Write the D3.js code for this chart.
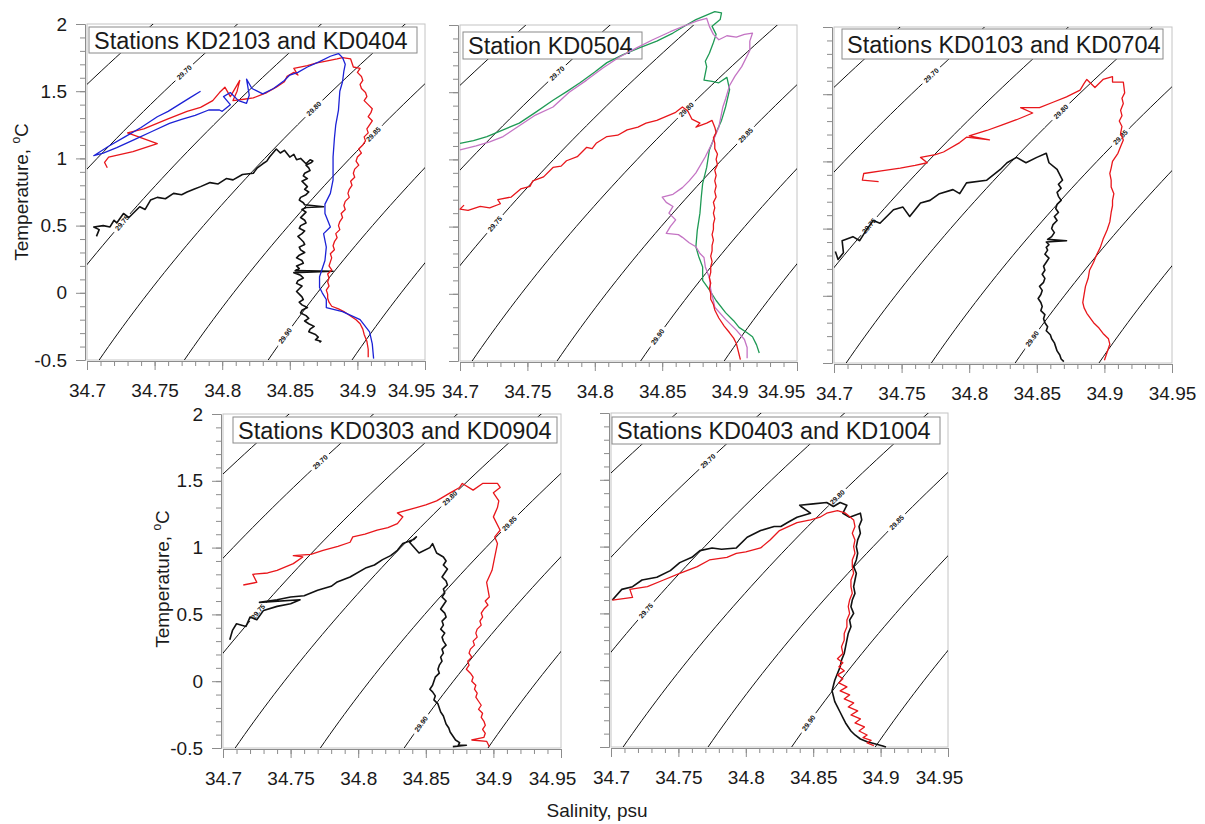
<!DOCTYPE html>
<html>
<head>
<meta charset="utf-8">
<script src="https://cdn.jsdelivr.net/npm/d3@7"></script>
<style>
  body { margin: 0; background: #fff; }
  text { font-family: "Liberation Sans", Arial, sans-serif; }
</style>
</head>
<body>
<svg id="chart" width="1205" height="824"></svg>
<script>
// ---------- isopycnal grid (sigma levels and their salinity at T = -0.5 °C) ----------
const sigmaLevels   = [29.65, 29.70, 29.75, 29.80, 29.85, 29.90, 29.95];
const sigmaBaseSal  = [34.5225, 34.585, 34.647, 34.709, 34.772, 34.834, 34.896];
const labelledSigma = ["29.70", "29.75", "29.80", "29.85", "29.90"];
const labelTemp     = [1.64, 0.52, 1.37, 1.18, -0.32];

// ---------- axis ticks ----------
const salTicks  = [34.7, 34.75, 34.8, 34.85, 34.9, 34.95];
const tempTicks = [-0.5, 0, 0.5, 1, 1.5, 2];

// ---------- titles ----------
const titles = [
  "Stations KD2103 and KD0404",
  "Station KD0504",
  "Stations KD0103 and KD0704",
  "Stations KD0303 and KD0904",
  "Stations KD0403 and KD1004"
];

// ---------- CTD profiles: [salinity, temperature] ----------
const p1Black = [[34.707,0.42],[34.709,0.47],[34.705,0.49],[34.712,0.50],[34.717,0.49],[34.720,0.54],[34.722,0.52],[34.727,0.59],[34.731,0.56],[34.739,0.64],[34.743,0.62],[34.747,0.69],[34.752,0.71],[34.758,0.70],[34.764,0.74],[34.770,0.73],[34.774,0.75],[34.779,0.77],[34.784,0.79],[34.791,0.82],[34.797,0.81],[34.803,0.85],[34.808,0.84],[34.815,0.88],[34.823,0.89],[34.826,0.93],[34.830,0.96],[34.833,0.98],[34.835,1.01],[34.840,1.07],[34.843,1.04],[34.846,1.06],[34.850,1.01],[34.853,1.03],[34.855,0.99],[34.858,1.00],[34.862,0.96],[34.865,0.99],[34.867,0.98],
  [34.866,0.97],[34.862,0.95],[34.864,0.93],[34.865,0.91],[34.861,0.89],[34.860,0.87],[34.863,0.85],[34.859,0.83],[34.861,0.81],[34.863,0.79],[34.861,0.77],[34.864,0.75],[34.862,0.73],[34.858,0.71],[34.857,0.69],[34.860,0.67],[34.861,0.655],[34.875,0.64],[34.862,0.635],[34.859,0.62],[34.862,0.60],[34.860,0.58],[34.858,0.56],[34.861,0.54],[34.862,0.52],[34.858,0.50],[34.857,0.48],[34.861,0.46],[34.859,0.44],[34.856,0.42],[34.858,0.40],[34.860,0.38],[34.861,0.36],[34.857,0.34],[34.858,0.32],[34.861,0.30],[34.857,0.28],[34.855,0.26],[34.859,0.24],[34.860,0.22],[34.855,0.20],[34.857,0.18],[34.854,0.165],[34.882,0.16],[34.853,0.15],[34.858,0.13],[34.860,0.11],[34.856,0.09],[34.855,0.07],[34.859,0.05],[34.857,0.03],[34.855,0.01],[34.857,-0.01],[34.859,-0.03],[34.860,-0.05],[34.857,-0.07],[34.859,-0.09],[34.863,-0.11],[34.859,-0.13],[34.858,-0.15],[34.862,-0.17],[34.864,-0.19],[34.861,-0.21],[34.864,-0.23],[34.868,-0.25],[34.865,-0.27],[34.864,-0.29],[34.869,-0.31],[34.871,-0.33],[34.869,-0.35],[34.873,-0.36],[34.872,-0.37]];
const p1Red = [[34.715,0.93],[34.713,0.97],[34.716,1.01],[34.734,1.05],[34.752,1.11],[34.730,1.19],[34.742,1.22],[34.759,1.29],[34.774,1.35],[34.784,1.38],[34.793,1.43],[34.798,1.49],[34.802,1.53],[34.806,1.46],[34.813,1.58],[34.811,1.50],[34.808,1.43],[34.816,1.44],[34.823,1.45],[34.833,1.49],[34.840,1.53],[34.846,1.57],[34.848,1.61],[34.853,1.64],[34.856,1.62],[34.853,1.67],[34.863,1.69],[34.870,1.71],[34.875,1.72],[34.885,1.74],[34.889,1.75],[34.895,1.74],[34.897,1.68],[34.902,1.67],
  [34.900,1.64],[34.903,1.61],[34.904,1.58],[34.902,1.55],[34.903,1.52],[34.906,1.49],[34.907,1.46],[34.905,1.43],[34.908,1.40],[34.911,1.37],[34.910,1.34],[34.908,1.31],[34.911,1.28],[34.909,1.25],[34.907,1.22],[34.908,1.19],[34.905,1.16],[34.906,1.13],[34.904,1.10],[34.901,1.07],[34.903,1.04],[34.900,1.01],[34.899,0.98],[34.901,0.95],[34.898,0.92],[34.897,0.89],[34.898,0.86],[34.895,0.83],[34.896,0.80],[34.894,0.77],[34.893,0.74],[34.894,0.71],[34.891,0.68],[34.890,0.65],[34.891,0.62],[34.888,0.59],[34.889,0.56],[34.887,0.53],[34.886,0.50],[34.887,0.47],[34.884,0.44],[34.885,0.41],[34.883,0.38],[34.882,0.35],[34.883,0.32],[34.880,0.29],[34.881,0.26],[34.880,0.23],[34.879,0.20],[34.881,0.17],[34.878,0.14],[34.879,0.11],[34.878,0.08],[34.879,0.05],[34.877,0.02],[34.878,-0.01],[34.878,-0.04],[34.879,-0.07],[34.881,-0.10],[34.886,-0.12],[34.890,-0.14],[34.893,-0.16],[34.896,-0.18],[34.899,-0.20],[34.902,-0.23],[34.904,-0.27],[34.905,-0.31],[34.907,-0.36],[34.908,-0.42],[34.908,-0.48]];
const p1Blue = [[34.784,1.50],[34.776,1.45],[34.768,1.40],[34.760,1.35],[34.752,1.31],[34.740,1.23],[34.728,1.16],[34.716,1.09],[34.705,1.02],[34.712,1.04],[34.722,1.08],[34.735,1.14],[34.748,1.20],[34.761,1.26],[34.770,1.29],[34.780,1.32],[34.790,1.36],[34.798,1.36],[34.800,1.35],[34.806,1.40],[34.801,1.46],[34.806,1.49],[34.812,1.43],[34.818,1.41],[34.820,1.47],[34.818,1.59],[34.822,1.52],[34.830,1.48],[34.838,1.52],[34.846,1.58],[34.850,1.62],[34.856,1.64],[34.863,1.68],[34.872,1.72],[34.880,1.76],[34.886,1.78],[34.889,1.75],[34.891,1.70],[34.890,1.65],[34.889,1.57],[34.887,1.50],[34.886,1.36],[34.884,1.25],[34.883,1.15],[34.882,1.01],[34.882,0.90],[34.882,0.84],[34.880,0.74],[34.876,0.66],[34.876,0.59],[34.880,0.49],[34.875,0.44],[34.877,0.34],[34.876,0.24],[34.872,0.12],[34.872,0.04],[34.874,0.00],[34.877,-0.05],[34.877,-0.11],[34.889,-0.14],[34.902,-0.20],[34.909,-0.29],[34.911,-0.38],[34.912,-0.49]];

const p2Green = [[34.700,1.12],[34.710,1.14],[34.720,1.17],[34.732,1.22],[34.744,1.27],[34.756,1.35],[34.769,1.44],[34.780,1.51],[34.789,1.57],[34.800,1.65],[34.809,1.72],[34.821,1.78],[34.833,1.83],[34.846,1.88],[34.858,1.94],[34.868,2.00],[34.875,2.04],[34.882,2.07],[34.889,2.10],[34.894,2.09],[34.893,2.04],[34.887,1.99],[34.890,1.93],[34.888,1.87],[34.885,1.79],[34.882,1.73],[34.883,1.69],[34.881,1.59],[34.887,1.58],[34.892,1.57],[34.898,1.61],[34.900,1.52],[34.897,1.39],[34.894,1.29],[34.890,1.20],[34.887,1.12],[34.885,1.07],[34.883,0.94],[34.880,0.82],[34.879,0.72],[34.878,0.60],[34.876,0.47],[34.875,0.35],[34.877,0.28],[34.880,0.20],[34.880,0.10],[34.885,0.03],[34.890,-0.05],[34.897,-0.14],[34.903,-0.20],[34.907,-0.25],[34.913,-0.29],[34.917,-0.32],[34.920,-0.38],[34.922,-0.44]];
const p2Pink = [[34.700,1.07],[34.712,1.10],[34.722,1.13],[34.732,1.17],[34.744,1.25],[34.756,1.33],[34.769,1.39],[34.781,1.50],[34.794,1.59],[34.806,1.68],[34.818,1.76],[34.831,1.83],[34.843,1.89],[34.856,1.95],[34.868,2.00],[34.876,2.03],[34.883,2.05],[34.885,1.99],[34.888,1.93],[34.892,1.89],[34.898,1.92],[34.905,1.91],[34.911,1.93],[34.917,1.94],[34.915,1.88],[34.915,1.81],[34.909,1.69],[34.904,1.62],[34.900,1.55],[34.897,1.45],[34.895,1.39],[34.892,1.24],[34.887,1.12],[34.882,1.02],[34.875,0.90],[34.870,0.84],[34.865,0.79],[34.858,0.74],[34.850,0.72],[34.853,0.68],[34.858,0.65],[34.855,0.60],[34.860,0.55],[34.856,0.50],[34.853,0.45],[34.862,0.44],[34.865,0.42],[34.870,0.38],[34.875,0.35],[34.878,0.30],[34.881,0.27],[34.882,0.20],[34.885,0.12],[34.886,0.03],[34.888,-0.05],[34.889,-0.10],[34.897,-0.19],[34.905,-0.27],[34.911,-0.34],[34.913,-0.40],[34.913,-0.48]];
const p2Red = [[34.703,0.66],[34.700,0.63],[34.706,0.62],[34.715,0.65],[34.722,0.64],[34.730,0.67],[34.728,0.70],[34.738,0.72],[34.745,0.78],[34.752,0.80],[34.754,0.84],[34.762,0.87],[34.769,0.94],[34.775,0.95],[34.779,0.99],[34.787,1.02],[34.794,1.09],[34.798,1.08],[34.801,1.12],[34.809,1.17],[34.817,1.18],[34.824,1.22],[34.832,1.24],[34.838,1.27],[34.846,1.29],[34.853,1.32],[34.860,1.35],[34.865,1.39],[34.869,1.36],[34.872,1.30],[34.878,1.27],[34.875,1.24],[34.883,1.27],[34.887,1.29],[34.889,1.24],
  [34.890,1.20],[34.888,1.16],[34.889,1.12],[34.889,1.08],[34.891,1.04],[34.890,1.00],[34.891,0.96],[34.889,0.92],[34.890,0.88],[34.889,0.84],[34.890,0.80],[34.889,0.76],[34.890,0.72],[34.888,0.68],[34.889,0.64],[34.888,0.60],[34.889,0.56],[34.888,0.52],[34.888,0.48],[34.887,0.44],[34.888,0.40],[34.887,0.36],[34.887,0.32],[34.886,0.28],[34.887,0.24],[34.886,0.20],[34.886,0.16],[34.885,0.12],[34.886,0.08],[34.885,0.04],[34.886,0.00],[34.886,-0.04],[34.888,-0.08],[34.889,-0.12],[34.892,-0.18],[34.896,-0.24],[34.900,-0.29],[34.903,-0.33],[34.905,-0.37],[34.906,-0.41],[34.907,-0.45],[34.908,-0.49]];

const p3Red = [[34.733,0.85],[34.721,0.86],[34.722,0.91],[34.735,0.93],[34.749,0.95],[34.760,0.97],[34.769,0.99],[34.764,1.03],[34.775,1.05],[34.781,1.07],[34.793,1.14],[34.798,1.18],[34.815,1.16],[34.800,1.19],[34.813,1.23],[34.824,1.27],[34.835,1.31],[34.847,1.36],[34.838,1.40],[34.852,1.40],[34.862,1.44],[34.872,1.48],[34.882,1.53],[34.885,1.58],[34.887,1.61],[34.893,1.55],[34.899,1.61],[34.906,1.63],[34.906,1.59],[34.914,1.59],[34.915,1.51],[34.913,1.47],[34.914,1.43],[34.912,1.38],[34.913,1.34],[34.911,1.30],[34.913,1.26],[34.912,1.21],[34.914,1.16],[34.912,1.11],[34.910,1.06],[34.906,1.00],[34.905,0.95],[34.904,0.91],[34.905,0.86],[34.905,0.81],[34.907,0.76],[34.906,0.71],[34.906,0.67],[34.905,0.62],[34.904,0.55],[34.902,0.49],[34.899,0.42],[34.897,0.36],[34.894,0.30],[34.892,0.25],[34.889,0.19],[34.888,0.13],[34.886,0.07],[34.885,0.01],[34.884,-0.05],[34.885,-0.09],[34.887,-0.13],[34.892,-0.20],[34.896,-0.24],[34.899,-0.28],[34.903,-0.32],[34.904,-0.36],[34.902,-0.42],[34.900,-0.48]];
const p3Black = [[34.701,0.33],[34.703,0.27],[34.707,0.32],[34.706,0.41],[34.714,0.44],[34.719,0.41],[34.724,0.49],[34.729,0.56],[34.734,0.54],[34.744,0.64],[34.751,0.66],[34.756,0.59],[34.764,0.69],[34.771,0.71],[34.778,0.76],[34.788,0.79],[34.793,0.76],[34.798,0.84],[34.813,0.86],[34.823,0.94],[34.828,0.99],[34.835,1.03],[34.842,0.99],[34.850,1.03],[34.857,1.06],[34.859,0.99],[34.865,0.94],[34.869,0.86],
  [34.866,0.83],[34.868,0.80],[34.865,0.77],[34.866,0.74],[34.868,0.71],[34.865,0.68],[34.864,0.65],[34.866,0.62],[34.863,0.59],[34.865,0.56],[34.862,0.53],[34.861,0.50],[34.863,0.47],[34.861,0.44],[34.858,0.42],[34.872,0.41],[34.857,0.40],[34.859,0.38],[34.857,0.36],[34.858,0.34],[34.856,0.31],[34.859,0.28],[34.857,0.25],[34.855,0.22],[34.856,0.19],[34.854,0.16],[34.856,0.13],[34.855,0.10],[34.852,0.07],[34.854,0.04],[34.853,0.01],[34.851,-0.02],[34.853,-0.05],[34.854,-0.08],[34.853,-0.11],[34.856,-0.14],[34.855,-0.17],[34.856,-0.20],[34.858,-0.23],[34.857,-0.26],[34.860,-0.29],[34.861,-0.32],[34.863,-0.35],[34.864,-0.38],[34.865,-0.41],[34.867,-0.44],[34.868,-0.47],[34.870,-0.49]];

const p4Red = [[34.715,0.72],[34.725,0.74],[34.722,0.80],[34.733,0.81],[34.740,0.83],[34.752,0.88],[34.759,0.93],[34.752,0.94],[34.765,0.95],[34.774,0.98],[34.785,1.01],[34.794,1.04],[34.796,1.08],[34.805,1.10],[34.814,1.13],[34.822,1.15],[34.829,1.18],[34.833,1.23],[34.829,1.26],[34.843,1.30],[34.850,1.32],[34.858,1.35],[34.868,1.41],[34.875,1.45],[34.877,1.48],[34.885,1.43],[34.892,1.48],[34.903,1.48],[34.905,1.45],[34.900,1.41],[34.904,1.35],[34.903,1.30],[34.900,1.23],[34.905,1.13],[34.901,1.08],[34.903,1.03],[34.901,0.93],[34.899,0.83],[34.895,0.74],[34.897,0.63],
  [34.894,0.60],[34.896,0.57],[34.893,0.54],[34.891,0.51],[34.892,0.48],[34.890,0.45],[34.891,0.42],[34.888,0.39],[34.887,0.36],[34.888,0.33],[34.885,0.30],[34.886,0.27],[34.883,0.24],[34.882,0.21],[34.884,0.18],[34.881,0.15],[34.882,0.12],[34.880,0.09],[34.883,0.06],[34.885,0.03],[34.884,0.00],[34.887,-0.03],[34.886,-0.06],[34.888,-0.09],[34.887,-0.12],[34.889,-0.15],[34.891,-0.18],[34.889,-0.21],[34.892,-0.24],[34.891,-0.27],[34.893,-0.30],[34.894,-0.33],[34.892,-0.36],[34.894,-0.39],[34.893,-0.42],[34.884,-0.44],[34.895,-0.45],[34.896,-0.47],[34.897,-0.49]];
const p4Black = [[34.705,0.31],[34.707,0.38],[34.710,0.43],[34.717,0.41],[34.720,0.48],[34.725,0.46],[34.730,0.53],[34.740,0.56],[34.750,0.58],[34.757,0.61],[34.727,0.59],[34.740,0.61],[34.750,0.63],[34.760,0.64],[34.770,0.68],[34.780,0.71],[34.784,0.74],[34.794,0.78],[34.806,0.85],[34.812,0.87],[34.818,0.91],[34.824,0.94],[34.829,0.98],[34.833,1.03],[34.841,1.06],[34.843,1.08],[34.838,1.04],[34.845,0.96],[34.853,1.00],[34.855,1.03],[34.858,0.96],[34.863,0.93],
  [34.865,0.90],[34.863,0.87],[34.866,0.84],[34.864,0.81],[34.862,0.78],[34.865,0.75],[34.866,0.72],[34.863,0.69],[34.864,0.66],[34.862,0.63],[34.865,0.60],[34.863,0.57],[34.861,0.54],[34.864,0.51],[34.865,0.48],[34.862,0.45],[34.863,0.42],[34.861,0.39],[34.864,0.36],[34.862,0.33],[34.863,0.30],[34.865,0.27],[34.862,0.24],[34.863,0.21],[34.861,0.18],[34.862,0.15],[34.860,0.12],[34.859,0.09],[34.860,0.06],[34.857,0.03],[34.856,0.00],[34.855,-0.03],[34.853,-0.06],[34.855,-0.08],[34.857,-0.11],[34.856,-0.14],[34.859,-0.17],[34.860,-0.20],[34.861,-0.23],[34.863,-0.26],[34.864,-0.29],[34.865,-0.32],[34.867,-0.35],[34.868,-0.38],[34.870,-0.41],[34.872,-0.44],[34.875,-0.46],[34.874,-0.48],[34.880,-0.48],[34.870,-0.49]];

const p5Black = [[34.701,0.60],[34.708,0.68],[34.716,0.70],[34.723,0.75],[34.734,0.77],[34.744,0.82],[34.751,0.88],[34.760,0.92],[34.766,0.97],[34.775,0.99],[34.782,0.98],[34.793,0.99],[34.801,1.07],[34.811,1.12],[34.821,1.15],[34.826,1.15],[34.831,1.18],[34.838,1.22],[34.848,1.25],[34.841,1.30],[34.840,1.31],[34.850,1.32],[34.860,1.33],[34.865,1.30],[34.870,1.33],[34.875,1.31],[34.872,1.25],[34.877,1.22],[34.885,1.25],
  [34.886,1.20],[34.884,1.15],[34.885,1.10],[34.883,1.05],[34.882,1.00],[34.883,0.95],[34.882,0.90],[34.880,0.85],[34.882,0.80],[34.881,0.75],[34.880,0.70],[34.881,0.65],[34.879,0.60],[34.878,0.55],[34.880,0.50],[34.877,0.45],[34.878,0.40],[34.876,0.35],[34.875,0.30],[34.874,0.25],[34.873,0.20],[34.871,0.15],[34.870,0.10],[34.868,0.05],[34.866,0.00],[34.865,-0.04],[34.864,-0.08],[34.865,-0.12],[34.866,-0.16],[34.868,-0.20],[34.870,-0.24],[34.872,-0.28],[34.874,-0.32],[34.876,-0.35],[34.878,-0.38],[34.881,-0.41],[34.885,-0.44],[34.890,-0.46],[34.897,-0.48],[34.901,-0.49],[34.904,-0.50]];
const p5Red = [[34.701,0.60],[34.716,0.62],[34.714,0.68],[34.727,0.70],[34.739,0.75],[34.751,0.80],[34.764,0.85],[34.773,0.90],[34.786,0.92],[34.793,0.95],[34.800,0.96],[34.811,0.99],[34.818,1.05],[34.825,1.12],[34.838,1.18],[34.848,1.20],[34.855,1.22],[34.860,1.25],[34.868,1.27],[34.874,1.25],
  [34.880,1.20],[34.881,1.15],[34.879,1.10],[34.881,1.05],[34.880,1.00],[34.881,0.95],[34.879,0.90],[34.879,0.85],[34.880,0.80],[34.878,0.75],[34.878,0.70],[34.879,0.65],[34.877,0.60],[34.876,0.55],[34.877,0.50],[34.875,0.45],[34.875,0.40],[34.873,0.35],[34.873,0.30],[34.871,0.25],[34.872,0.20],[34.868,0.16],[34.872,0.13],[34.869,0.10],[34.873,0.07],[34.868,0.04],[34.872,0.01],[34.869,-0.02],[34.875,-0.05],[34.870,-0.08],[34.877,-0.11],[34.873,-0.14],[34.880,-0.17],[34.876,-0.20],[34.883,-0.23],[34.878,-0.26],[34.885,-0.29],[34.881,-0.32],[34.888,-0.35],[34.884,-0.38],[34.890,-0.41],[34.887,-0.43],[34.893,-0.45],[34.890,-0.47],[34.895,-0.49]];

// ---------- panel layout ----------
const panels = [
  { x: 87,  y: 24,  w: 338, h: 336, box: [89, 27, 328, 26],  yLabels: true,  yTitle: [21, 192], lastShift: -14,
    traces: [[p1Black, "#111"], [p1Red, "#e8161b"], [p1Blue, "#1c22d6"]] },
  { x: 460, y: 25,  w: 337, h: 336, box: [463, 32, 179, 27], yLabels: false, lastShift: -16,
    traces: [[p2Green, "#1f9a55"], [p2Pink, "#c474c4"], [p2Red, "#e8161b"]] },
  { x: 834, y: 27,  w: 338, h: 336, box: [842, 29, 321, 30], yLabels: false, lastShift: 0,
    traces: [[p3Black, "#111"], [p3Red, "#e8161b"]] },
  { x: 223, y: 414, w: 338, h: 334, box: [233, 417, 324, 26], yLabels: true, yTitle: [162, 579], lastShift: -9,
    traces: [[p4Black, "#111"], [p4Red, "#e8161b"]] },
  { x: 611, y: 413, w: 337, h: 334, box: [612, 417, 328, 27], yLabels: false, lastShift: -9,
    traces: [[p5Black, "#111"], [p5Red, "#e8161b"]] }
];

// salinity of an isopycnal at temperature t (curvature from thermal expansion)
function isoSal(base, t) {
  const u = t + 0.5;
  return base + 0.0683 * u + 0.0089 * u * u;
}
function isoSlope(t) { return 0.0683 + 2 * 0.0089 * (t + 0.5); }

const svg = d3.select("#chart");
const fmt = v => String(+v.toFixed(2));

panels.forEach((p, i) => {
  const xs = d3.scaleLinear().domain([34.7, 34.95]).range([p.x, p.x + p.w]);
  const ys = d3.scaleLinear().domain([-0.5, 2]).range([p.y + p.h, p.y]);
  const g = svg.append("g");

  const clipId = "clip" + i;
  svg.append("clipPath").attr("id", clipId)
    .append("rect").attr("x", p.x).attr("y", p.y).attr("width", p.w).attr("height", p.h);

  // frame
  g.append("rect").attr("x", p.x).attr("y", p.y).attr("width", p.w).attr("height", p.h)
    .attr("fill", "#fff").attr("stroke", "#c4c4c4").attr("stroke-width", 1);

  // isopycnals
  const iso = g.append("g").attr("clip-path", `url(#${clipId})`);
  const temps = d3.range(-0.6, 2.1001, 0.05);
  const line = d3.line().x(d => xs(d[0])).y(d => ys(d[1]));
  sigmaLevels.forEach((s, k) => {
    const pts = temps.map(t => [isoSal(sigmaBaseSal[k], t), t]);
    iso.append("path").attr("d", line(pts)).attr("fill", "none")
      .attr("stroke", "#111").attr("stroke-width", 1);
  });
  labelledSigma.forEach((lab, j) => {
    const k = sigmaLevels.indexOf(+lab);
    const t = labelTemp[j];
    const sx = xs(isoSal(sigmaBaseSal[k], t)), sy = ys(t);
    const kx = xs(34.8) - xs(34.7), ky = ys(0) - ys(1);
    const ang = Math.atan2(-ky, isoSlope(t) * kx * 10) * 180 / Math.PI;
    const lg = iso.append("g").attr("transform", `translate(${sx},${sy}) rotate(${ang})`);
    lg.append("rect").attr("x", -12).attr("y", -4).attr("width", 24).attr("height", 8).attr("fill", "#fff");
    lg.append("text").attr("text-anchor", "middle").attr("dy", "0.35em")
      .attr("font-size", 7).attr("font-weight", "bold").attr("fill", "#111").text(lab);
  });

  // title box
  const b = p.box;
  g.append("rect").attr("x", b[0]).attr("y", b[1]).attr("width", b[2]).attr("height", b[3])
    .attr("fill", "#fff").attr("stroke", "#8a8a8a").attr("stroke-width", 1);
  g.append("text").attr("x", b[0] + 5).attr("y", b[1] + b[3] / 2 + 8.5)
    .attr("font-size", 23.5).attr("fill", "#1a1a1a").text(titles[i]);

  // axes
  const axisStyle = sel => {
    sel.selectAll("path,line").attr("stroke", "#8c8c8c");
    sel.selectAll("text").attr("font-size", 19).attr("fill", "#1a1a1a")
      .attr("font-family", '"Liberation Sans", Arial, sans-serif');
  };
  const minorS = d3.range(34.70, 34.9501, 0.01);
  g.append("g").attr("transform", `translate(0,${p.y + p.h + 1})`)
    .call(d3.axisBottom(xs).tickValues(minorS).tickSize(5).tickSizeOuter(0).tickFormat(""))
    .call(axisStyle);
  const xMajor = g.append("g").attr("transform", `translate(0,${p.y + p.h + 1})`)
    .call(d3.axisBottom(xs).tickValues(salTicks).tickSize(9).tickPadding(14).tickSizeOuter(0).tickFormat(fmt))
    .call(axisStyle);
  // the last salinity label sits a little inside the axis end
  xMajor.selectAll(".tick text").filter(d => d === 34.95).attr("dx", p.lastShift);

  const minorT = d3.range(-0.5, 2.0001, 0.1);
  g.append("g").attr("transform", `translate(${p.x - 2},0)`)
    .call(d3.axisLeft(ys).tickValues(minorT).tickSize(5).tickSizeOuter(0).tickFormat(""))
    .call(axisStyle);
  g.append("g").attr("transform", `translate(${p.x - 2},0)`)
    .call(d3.axisLeft(ys).tickValues(tempTicks).tickSize(9).tickPadding(9).tickSizeOuter(0)
      .tickFormat(p.yLabels ? (v => String(v)) : ""))
    .call(axisStyle);

  if (p.yTitle) {
    const t = g.append("text").attr("transform", `translate(${p.yTitle[0]},${p.yTitle[1]}) rotate(-90)`)
      .attr("text-anchor", "middle").attr("dy", "0.35em").attr("font-size", 19).attr("fill", "#1a1a1a");
    t.append("tspan").text("Temperature, ");
    t.append("tspan").attr("font-size", 12).attr("dy", "-0.6em").text("o");
    t.append("tspan").attr("dy", "0.4em").text("C");
  }

  // profiles
  const pl = d3.line().x(d => xs(d[0])).y(d => ys(d[1]));
  p.traces.forEach(([data, color]) => {
    g.append("path").attr("d", pl(data)).attr("fill", "none").attr("stroke", color)
      .attr("stroke-width", color === "#111" ? 1.6 : 1.3).attr("stroke-linejoin", "round");
  });
});

svg.append("text").attr("x", 597).attr("y", 817).attr("text-anchor", "middle")
  .attr("font-size", 19).attr("fill", "#1a1a1a").text("Salinity, psu");
</script>
</body>
</html>
